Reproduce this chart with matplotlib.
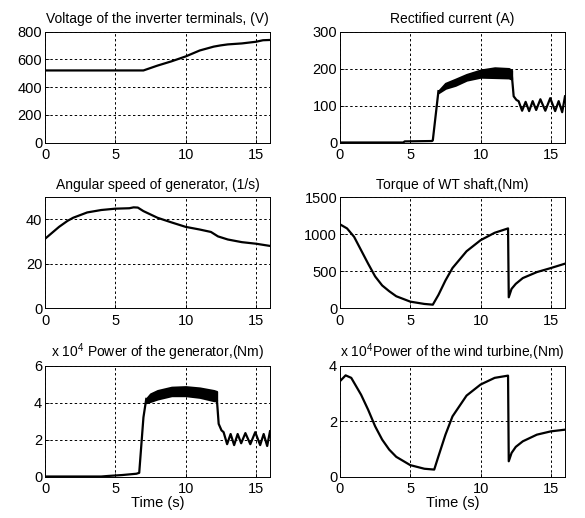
import numpy as np
import matplotlib
matplotlib.use('Agg')
import matplotlib.pyplot as plt

plt.rcParams['font.family'] = ['Liberation Sans', 'DejaVu Sans']
plt.rcParams['mathtext.default'] = 'regular'

# voltage of the inverter terminals (V)
t_volt = [0, 7.0, 8, 9, 10, 11, 12, 12.5, 13, 14, 15, 15.5, 16]
volt = [520, 520, 555, 586, 621, 664, 692, 701, 708, 715, 727, 738, 740]

# rectified current (A): start, dense ripple band, slow ripple tail
t_cur_a = [0, 4.5, 4.6, 6.55, 6.6, 7.0]
cur_a = [0, 0, 3, 4, 6, 139]
t_band = [7.0, 7.5, 8.2, 9, 10, 11, 12, 12.2]
cur_top = [139, 160, 171, 184, 196, 202, 200, 195]
cur_bot = [135, 147, 155, 169, 177, 176, 175, 172]
t_tail = [12.2, 12.35, 12.55, 12.7, 12.95, 13.2, 13.45, 13.7, 13.95, 14.25,
          14.6, 14.95, 15.3, 15.55, 15.8, 16.0]
cur_tail = [190, 125, 115, 112, 86, 110, 85, 112, 88, 117, 86, 120, 85, 112, 82, 125]

# angular speed of generator (1/s)
t_speed = [0, 1, 1.6, 2, 3, 4, 5, 6, 6.3, 6.6, 7, 7.5, 8, 9, 10, 11, 11.8,
           12.3, 13, 14, 15, 16]
speed = [31.2, 36.6, 39.3, 40.7, 43.1, 44.2, 44.8, 45.0, 45.4, 45.3, 43.7,
         42.2, 40.7, 38.6, 36.6, 35.4, 34.3, 32.3, 30.9, 29.7, 29.0, 28.0]

# torque of WT shaft (Nm)
t_torque = [0, 0.5, 1, 1.5, 2, 2.5, 3, 3.5, 4, 5, 6, 6.6, 7, 7.5, 8, 9, 10,
            11, 11.95, 12.0, 12.2, 12.5, 13, 14, 15, 16]
torque = [1132, 1077, 964, 782, 600, 427, 305, 227, 159, 86, 55, 45, 177,
          373, 541, 768, 918, 1018, 1077, 145, 259, 327, 405, 486, 541, 600]

# power of the generator (x 10^4)
t_pg_a = [0, 4.0, 4.5, 5.5, 6.5, 6.7, 7.0, 7.2]
pg_a = [0, 0, 0.03, 0.08, 0.15, 0.2, 3.2, 4.2]
t_pg_band = [7.2, 7.5, 8, 9, 10, 11, 12, 12.2]
pg_top = [4.2, 4.47, 4.65, 4.83, 4.86, 4.79, 4.65, 4.6]
pg_bot = [4.0, 4.07, 4.2, 4.38, 4.38, 4.29, 4.11, 4.1]
pg_tail = [4.4, 2.85, 2.5, 2.4, 1.75, 2.3, 1.7, 2.3, 1.8, 2.35, 1.75, 2.4,
           1.7, 2.3, 1.65, 2.45]

# power of the wind turbine (x 10^4)
t_pw = [0, 0.4, 0.8, 1.5, 2, 2.5, 3, 3.5, 4, 5, 6, 6.7, 7, 7.5, 8, 9, 10, 11,
        11.95, 12.0, 12.2, 12.5, 13, 14, 15, 16]
pw = [3.44, 3.65, 3.56, 2.95, 2.41, 1.81, 1.33, 0.97, 0.71, 0.41, 0.28, 0.25,
      0.73, 1.51, 2.17, 2.92, 3.32, 3.56, 3.64, 0.55, 0.85, 1.07, 1.27, 1.51,
      1.63, 1.69]

fig = plt.figure(figsize=(5.85, 5.18), dpi=100)
lefts = [45 / 585, 340 / 585]
bottoms = [0.7249, 0.4054, 0.0801]
w = 225 / 585
h = 0.214


def make_ax(row, col, ylim, yticks, title):
    ax = fig.add_axes([lefts[col], bottoms[row], w, h])
    ax.set_xlim(0, 16)
    ax.set_ylim(*ylim)
    ax.set_xticks([0, 5, 10, 15])
    ax.set_yticks(yticks)
    ax.grid(True, color='black', linestyle=(0, (2.5, 2.5)), linewidth=0.7)
    ax.tick_params(direction='in', length=3, labelsize=10.5, width=0.6)
    ax.tick_params(axis='x', pad=4)
    ax.tick_params(axis='y', pad=2)
    for s in ax.spines.values():
        s.set_linewidth(0.7)
    ax.set_title(title, fontsize=10, pad=6)
    return ax


lw = 1.6
ax = make_ax(0, 0, (0, 800), [0, 200, 400, 600, 800],
             'Voltage of the inverter terminals, (V)')
ax.plot(t_volt, volt, color='black', lw=lw)

ax = make_ax(0, 1, (0, 300), [0, 100, 200, 300], 'Rectified current (A)')
ax.plot(t_cur_a, cur_a, color='black', lw=lw)
ax.fill_between(t_band, cur_bot, cur_top, color='black', lw=lw)
ax.plot(t_tail, cur_tail, color='black', lw=lw)

ax = make_ax(1, 0, (0, 50), [0, 20, 40], 'Angular speed of generator, (1/s)')
ax.plot(t_speed, speed, color='black', lw=lw)

ax = make_ax(1, 1, (0, 1500), [0, 500, 1000, 1500], 'Torque of WT shaft,(Nm)')
ax.plot(t_torque, torque, color='black', lw=lw)

ax = make_ax(2, 0, (0, 6), [0, 2, 4, 6], 'x 10$^4$ Power of the generator,(Nm)')
ax.plot(t_pg_a, pg_a, color='black', lw=lw)
ax.fill_between(t_pg_band, pg_bot, pg_top, color='black', lw=lw)
ax.plot(t_tail, pg_tail, color='black', lw=lw)
ax.set_xlabel('Time (s)', fontsize=10.5, labelpad=0)

ax = make_ax(2, 1, (0, 4), [0, 2, 4], 'x 10$^4$Power of the wind turbine,(Nm)')
ax.plot(t_pw, pw, color='black', lw=lw)
ax.set_xlabel('Time (s)', fontsize=10.5, labelpad=0)

fig.savefig('out.png', dpi=100)
